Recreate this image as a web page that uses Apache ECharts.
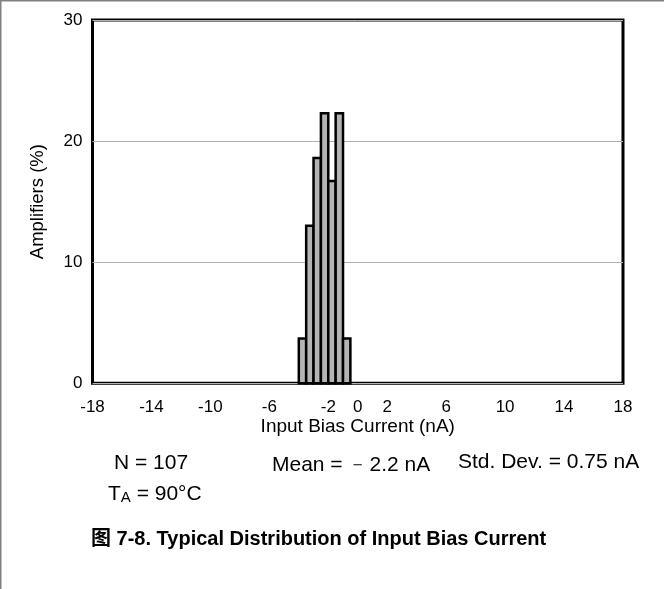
<!DOCTYPE html>
<html>
<head>
<meta charset="utf-8">
<script src="https://cdn.jsdelivr.net/npm/echarts@6/dist/echarts.min.js"></script>
<style>
  html, body { margin: 0; padding: 0; background: #fff; }
  #chart { position: absolute; left: 0; top: 0; width: 664px; height: 589px; }
</style>
</head>
<body>
<div id="chart"></div>
<script>
// ---- data ----
const binStarts = [-4.0, -3.5, -3.0, -2.5, -2.0, -1.5, -1.0];   // nA, left edge of each bin
const binWidth = 0.5;                                            // nA
const amplifiersPct = [3.7, 13.0, 18.6, 22.3, 16.7, 22.3, 3.7];   // %
const xTickLabels = [-18, -14, -10, -6, -2, 0, 2, 6, 10, 14, 18];
const yTicks = [0, 10, 20, 30];
const xAxisTitle = 'Input Bias Current (nA)';
const yAxisTitle = 'Amplifiers (%)';
const statN = 'N = 107';
const statMean = 'Mean = \uFE632.2 nA';
const statStd = 'Std. Dev. = 0.75 nA';
const figTitle = '图 7-8. Typical Distribution of Input Bias Current';

const FONT = '"Liberation Sans", Arial, sans-serif';
const chart = echarts.init(document.getElementById('chart'), null, { renderer: 'canvas' });

const seriesData = binStarts.map((s, i) => [s, amplifiersPct[i]]);

const option = {
  animation: false,
  backgroundColor: '#fff',
  grid: {
    left: 92.5, right: 41, top: 20, bottom: 205.7,
    show: true, borderColor: '#000', borderWidth: 3, backgroundColor: 'transparent'
  },
  xAxis: {
    type: 'value', min: xTickLabels[0], max: xTickLabels[xTickLabels.length - 1], interval: 2,
    axisLine: { show: false }, axisTick: { show: false }, splitLine: { show: false },
    axisLabel: {
      customValues: xTickLabels, color: '#000', fontFamily: FONT, fontSize: 17, margin: 16
    },
    name: xAxisTitle, nameLocation: 'middle', nameGap: 34, nameMoveOverlap: false,
    nameTextStyle: { color: '#000', fontFamily: FONT, fontSize: 19 }
  },
  yAxis: {
    type: 'value', min: yTicks[0], max: yTicks[yTicks.length - 1], interval: 10,
    axisLine: { show: false }, axisTick: { show: false },
    splitLine: { show: true, lineStyle: { color: '#b0b0b0', width: 1 } },
    axisLabel: { color: '#000', fontFamily: FONT, fontSize: 17, margin: 10 },
    name: yAxisTitle, nameLocation: 'middle', nameGap: 45, nameMoveOverlap: false,
    nameTextStyle: { color: '#000', fontFamily: FONT, fontSize: 18.5 }
  },
  series: [{
    type: 'custom',
    data: seriesData,
    encode: { x: 0, y: 1 },
    z: 5,
    renderItem: function (params, api) {
      const x0 = api.value(0), y = api.value(1);
      const pTop = api.coord([x0, y]);
      const pBot = api.coord([x0 + binWidth, 0]);
      return {
        type: 'rect',
        shape: { x: pTop[0], y: pTop[1], width: pBot[0] - pTop[0], height: pBot[1] - pTop[1] },
        style: { fill: '#b4b4b4', stroke: '#000', lineWidth: 2.5 }
      };
    }
  }],
  graphic: [
    { type: 'line', shape: { x1: 0, y1: 0.5, x2: 664, y2: 0.5 }, style: { stroke: '#808080', lineWidth: 2 } },
    { type: 'line', shape: { x1: 0.5, y1: 0, x2: 0.5, y2: 589 }, style: { stroke: '#808080', lineWidth: 2 } },
    { type: 'text', x: 114, y: 463, style: { text: statN, font: '21px ' + FONT, fill: '#000', textVerticalAlign: 'middle' } },
    { type: 'text', x: 272, y: 465, style: { text: statMean, font: '21px ' + FONT, fill: '#000', textVerticalAlign: 'middle' } },
    { type: 'text', x: 458, y: 462, style: { text: statStd, font: '21px ' + FONT, fill: '#000', textVerticalAlign: 'middle' } },
    { type: 'text', x: 108, y: 493, style: {
        text: '{t|T}{s|A}{t| = 90°C}', textVerticalAlign: 'middle',
        rich: { t: { font: '21px ' + FONT, fill: '#000', verticalAlign: 'bottom' },
                s: { font: '15px ' + FONT, fill: '#000', padding: [9, 0, 0, 0], verticalAlign: 'bottom' } }
    } },
    { type: 'text', x: 91, y: 539, style: { text: figTitle, font: 'bold 20px "Liberation Sans", Arial, "Noto Sans CJK SC", sans-serif', fill: '#000', textVerticalAlign: 'middle' } }
  ]
};
chart.setOption(option);
</script>
</body>
</html>
